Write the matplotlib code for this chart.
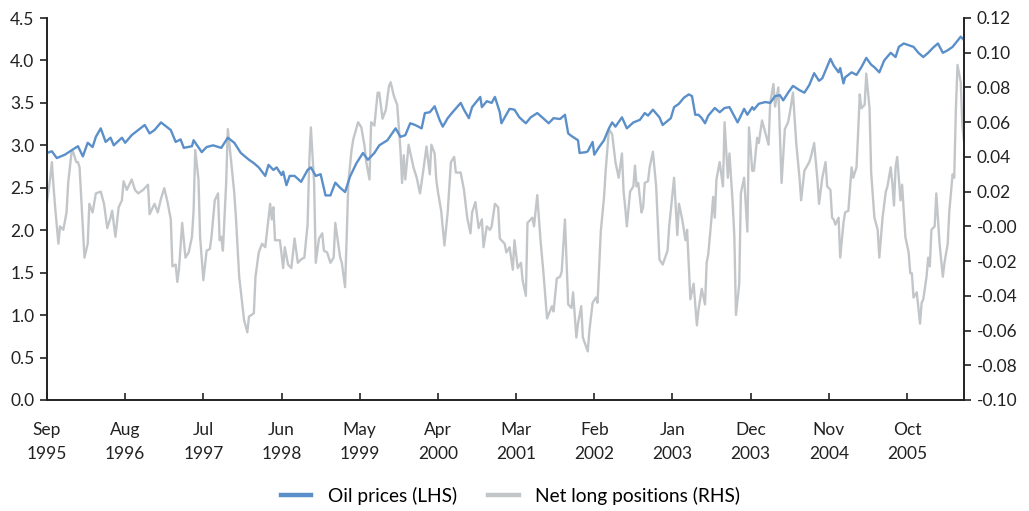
import matplotlib
matplotlib.use("Agg")
import matplotlib.pyplot as plt

# Weekly observations since Sep 1995 (week index) and values
oil_weeks = [0, 3, 6, 11, 15, 19, 22, 25, 28, 30, 33, 36, 39, 41, 46, 48, 52, 56, 60, 63, 66, 70, 72, 76,
             79, 82, 84, 89, 90, 95, 98, 102, 107, 111, 115, 119, 124, 127, 130, 134, 136, 139, 141, 144,
             145, 147, 149, 152, 156, 160, 162, 165, 168, 171, 174, 177, 180, 183, 186, 190, 194, 197, 201,
             204, 209, 214, 217, 220, 223, 226, 230, 232, 235, 238, 241, 243, 246, 249, 254, 256, 259, 261,
             266, 267, 270, 273, 275, 278, 279, 284, 287, 290, 294, 297, 301, 304, 308, 311, 315, 318, 320,
             322, 326, 327, 331, 332, 335, 336, 339, 342, 345, 347, 349, 353, 356, 360, 364, 367, 369, 372,
             376, 378, 383, 385, 388, 391, 394, 396, 398, 400, 402, 404, 406, 410, 413, 416, 419, 424, 428,
             430, 433, 434, 437, 441, 444, 447, 450, 452, 455, 458, 462, 465, 468, 471, 474, 476, 479, 481,
             483, 486, 487, 489, 490, 494, 497, 500, 503, 506, 508, 511, 514, 518, 521, 523, 526, 529, 532,
             535, 538, 541, 544, 547, 550, 553, 556, 561, 563]
oil_prices = [2.91, 2.93, 2.85, 2.89, 2.94, 2.99, 2.87, 3.03, 2.98, 3.10, 3.20, 3.04, 3.09, 3.00, 3.09, 3.03,
              3.12, 3.18, 3.24, 3.14, 3.18, 3.27, 3.24, 3.18, 3.04, 3.07, 2.97, 2.99, 3.06, 2.92, 2.98, 3.00,
              2.97, 3.09, 3.03, 2.91, 2.83, 2.79, 2.74, 2.64, 2.77, 2.71, 2.74, 2.65, 2.69, 2.53, 2.64, 2.64,
              2.57, 2.71, 2.74, 2.64, 2.66, 2.41, 2.41, 2.56, 2.50, 2.45, 2.63, 2.79, 2.91, 2.83, 2.91, 3.00,
              3.06, 3.20, 3.10, 3.12, 3.26, 3.24, 3.20, 3.38, 3.39, 3.46, 3.30, 3.22, 3.32, 3.39, 3.50, 3.42,
              3.32, 3.45, 3.57, 3.45, 3.52, 3.50, 3.57, 3.39, 3.26, 3.43, 3.42, 3.33, 3.26, 3.33, 3.38, 3.33,
              3.26, 3.32, 3.31, 3.36, 3.14, 3.11, 3.06, 2.91, 2.92, 2.93, 3.04, 2.89, 2.98, 3.06, 3.20, 3.27,
              3.22, 3.33, 3.20, 3.27, 3.30, 3.38, 3.35, 3.42, 3.33, 3.24, 3.32, 3.45, 3.49, 3.56, 3.60, 3.58,
              3.36, 3.36, 3.32, 3.26, 3.35, 3.44, 3.39, 3.44, 3.45, 3.27, 3.43, 3.36, 3.45, 3.42, 3.49, 3.51,
              3.50, 3.58, 3.59, 3.53, 3.62, 3.70, 3.65, 3.62, 3.71, 3.85, 3.76, 3.79, 3.93, 4.02, 3.94, 3.86,
              3.91, 3.73, 3.80, 3.86, 3.83, 3.92, 4.03, 3.95, 3.92, 3.86, 4.00, 4.09, 4.04, 4.16, 4.20, 4.18,
              4.16, 4.09, 4.04, 4.09, 4.15, 4.20, 4.09, 4.12, 4.16, 4.28, 4.24]

pos_weeks = [0, 2, 3, 4, 5, 7, 8, 10, 12, 13, 15, 16, 18, 19, 20, 22, 23, 25, 26, 28, 30, 33, 35, 37, 39,
             40, 42, 44, 46, 47, 49, 52, 54, 56, 59, 62, 63, 66, 68, 70, 72, 74, 76, 77, 79, 80, 81, 83, 85,
             87, 89, 90, 91, 93, 94, 96, 98, 100, 101, 103, 105, 106, 107, 108, 110, 111, 113, 115, 116,
             118, 121, 123, 124, 127, 128, 130, 132, 134, 137, 138, 139, 140, 143, 145, 146, 148, 150, 152,
             154, 156, 158, 160, 161, 162, 164, 165, 167, 169, 170, 172, 174, 176, 177, 180, 181, 183, 184,
             185, 187, 188, 191, 193, 195, 196, 198, 199, 201, 203, 204, 206, 208, 210, 211, 213, 215, 217,
             218, 219, 220, 222, 225, 227, 229, 231, 233, 235, 236, 238, 239, 240, 242, 244, 246, 248, 250,
             251, 254, 256, 258, 260, 261, 263, 265, 267, 268, 270, 272, 273, 275, 277, 278, 281, 282, 284,
             286, 287, 289, 291, 292, 294, 295, 298, 299, 301, 303, 305, 307, 310, 311, 313, 315, 316, 318,
             320, 322, 323, 325, 326, 328, 329, 332, 333, 335, 337, 338, 340, 342, 343, 345, 347, 349, 351,
             353, 354, 355, 356, 358, 360, 361, 362, 363, 365, 366, 367, 369, 370, 372, 374, 376, 378, 381,
             382, 385, 387, 388, 390, 392, 393, 395, 397, 399, 400, 402, 404, 405, 406, 408, 409, 410, 411,
             413, 415, 416, 418, 419, 421, 422, 423, 425, 426, 428, 430, 431, 433, 434, 436, 437, 439, 441,
             443, 444, 446, 447, 449, 451, 453, 455, 456, 458, 460, 462, 463, 465, 468, 469, 471, 473, 474,
             476, 478, 479, 481, 482, 483, 484, 486, 487, 489, 490, 492, 494, 495, 497, 498, 499, 500, 502,
             503, 505, 506, 508, 510, 511, 513, 515, 516, 518, 519, 520, 521, 522, 524, 525, 527, 529, 530,
             531, 532, 534, 536, 537, 538, 540, 541, 542, 543, 545, 546, 548, 550, 551, 553, 554, 556, 557,
             558, 559, 561, 562, 563]
net_long = [0.014, 0.028, 0.037, 0.023, 0.011, -0.010, 0.000, -0.002, 0.008, 0.025, 0.042, 0.043, 0.037,
            0.037, 0.034, 0.000, -0.018, -0.010, 0.013, 0.008, 0.019, 0.020, 0.013, -0.001, 0.005, 0.009,
            -0.006, 0.011, 0.015, 0.026, 0.021, 0.027, 0.021, 0.019, 0.021, 0.024, 0.007, 0.013, 0.008,
            0.016, 0.022, 0.014, 0.004, -0.023, -0.022, -0.032, -0.025, 0.002, -0.018, -0.015, -0.006,
            0.009, 0.044, 0.027, -0.006, -0.031, -0.014, -0.013, -0.006, 0.015, 0.019, -0.008, -0.006,
            -0.014, 0.025, 0.056, 0.038, 0.019, 0.005, -0.029, -0.054, -0.061, -0.052, -0.050, -0.029,
            -0.015, -0.010, -0.012, 0.013, 0.004, 0.011, -0.008, -0.008, -0.024, -0.012, -0.022, -0.024,
            -0.007, -0.021, -0.019, -0.018, 0.001, 0.037, 0.057, 0.025, -0.021, -0.007, -0.004, -0.014,
            -0.015, -0.021, -0.018, 0.002, -0.018, -0.021, -0.035, -0.006, 0.025, 0.044, 0.050, 0.060,
            0.057, 0.046, 0.037, 0.027, 0.060, 0.058, 0.077, 0.077, 0.062, 0.067, 0.081, 0.083, 0.075,
            0.070, 0.044, 0.025, 0.041, 0.027, 0.047, 0.034, 0.028, 0.019, 0.032, 0.046, 0.030, 0.047,
            0.042, 0.027, 0.020, 0.009, -0.011, 0.008, 0.037, 0.040, 0.031, 0.031, 0.021, 0.005, -0.004,
            0.008, 0.014, -0.001, 0.004, -0.012, 0.000, -0.002, 0.000, 0.013, 0.011, -0.007, -0.010,
            -0.015, -0.012, -0.025, -0.008, -0.024, -0.021, -0.031, -0.040, 0.002, 0.005, 0.000, 0.018,
            -0.008, -0.029, -0.053, -0.046, -0.049, -0.030, -0.029, -0.026, 0.004, -0.045, -0.047, -0.038,
            -0.064, -0.056, -0.046, -0.064, -0.072, -0.060, -0.044, -0.041, -0.044, -0.003, 0.017, 0.032,
            0.056, 0.053, 0.037, 0.028, 0.042, 0.020, 0.011, 0.000, 0.020, 0.023, 0.035, 0.023, 0.025,
            0.008, 0.011, 0.025, 0.026, 0.034, 0.043, 0.023, -0.019, -0.022, -0.014, 0.000, 0.028, -0.005,
            0.013, 0.004, -0.008, -0.002, -0.042, -0.033, -0.057, -0.048, -0.036, -0.045, -0.021, -0.016,
            0.005, 0.017, 0.005, 0.027, 0.037, 0.023, 0.060, 0.028, 0.042, 0.013, -0.006, -0.051, -0.033,
            0.019, 0.028, -0.003, 0.057, 0.032, 0.032, 0.051, 0.048, 0.061, 0.054, 0.047, 0.071, 0.082,
            0.069, 0.080, 0.025, 0.056, 0.060, 0.065, 0.077, 0.048, 0.028, 0.015, 0.032, 0.037, 0.040,
            0.048, 0.027, 0.013, 0.028, 0.037, 0.023, 0.021, 0.005, 0.004, 0.001, 0.005, -0.018, 0.002,
            0.008, 0.009, 0.034, 0.028, 0.034, 0.054, 0.076, 0.068, 0.070, 0.088, 0.068, 0.031, 0.005,
            -0.002, -0.018, 0.005, 0.020, 0.023, 0.034, 0.025, 0.012, 0.034, 0.040, 0.015, 0.024, -0.006,
            -0.015, -0.027, -0.027, -0.041, -0.038, -0.056, -0.044, -0.042, -0.029, -0.018, -0.023, -0.002,
            0.000, 0.019, -0.010, -0.029, -0.021, -0.010, 0.009, 0.030, 0.028, 0.067, 0.093, 0.083, 0.058,
            0.049]

tick_weeks = [0, 48, 96, 144, 192, 240, 288, 336, 384, 432, 480, 528]
tick_labels = ["Sep\n1995", "Aug\n1996", "Jul\n1997", "Jun\n1998", "May\n1999", "Apr\n2000",
               "Mar\n2001", "Feb\n2002", "Jan\n2003", "Dec\n2003", "Nov\n2004", "Oct\n2005"]
left_ticks = [0.0, 0.5, 1.0, 1.5, 2.0, 2.5, 3.0, 3.5, 4.0, 4.5]
right_ticks = [-0.10, -0.08, -0.06, -0.04, -0.02, 0.0, 0.02, 0.04, 0.06, 0.08, 0.10, 0.12]
right_labels = ["-0.10", "-0.08", "-0.06", "-0.04", "-0.02", "-0.00", "0.02", "0.04", "0.06",
                "0.08", "0.10", "0.12"]

plt.rcParams['font.family'] = ['Lato', 'DejaVu Sans']

BLUE = "#5b8fc9"
GRAY = "#c3c6c9"

fig = plt.figure(figsize=(10.29, 5.11), dpi=100)
ax = fig.add_axes([47 / 1029, 1 - 400 / 511, (964 - 47) / 1029, (400 - 18) / 511])
ax2 = ax.twinx()

ax2.plot(pos_weeks, net_long, color=GRAY, lw=1.7, label="Net long positions (RHS)")
ax.plot(oil_weeks, oil_prices, color=BLUE, lw=1.7, label="Oil prices (LHS)")

ax.set_zorder(ax2.get_zorder() + 1)
ax.patch.set_visible(False)

ax.set_xlim(0, 563)
ax.set_ylim(0, 4.5)
ax2.set_ylim(-0.10, 0.12)
ax.set_yticks(left_ticks)
ax.set_yticklabels([f"{v:.1f}" for v in left_ticks])
ax2.set_yticks(right_ticks)
ax2.set_yticklabels(right_labels)
ax.set_xticks(tick_weeks)
ax.set_xticklabels(tick_labels, linespacing=1.6)

for a in (ax, ax2):
    a.spines['top'].set_visible(False)
    for s in ('left', 'right', 'bottom'):
        a.spines[s].set_linewidth(1.2)
        a.spines[s].set_color('#222222')

ax.tick_params(axis='x', direction='in', length=5, width=1.2, pad=16, labelsize=12.5, colors='#222222')
ax.tick_params(axis='y', direction='out', length=5, width=1.2, pad=4, labelsize=12.5, colors='#222222')
ax2.tick_params(axis='y', direction='out', length=5, width=1.2, pad=4, labelsize=12.5, colors='#222222')

h1, l1 = ax.get_legend_handles_labels()
h2, l2 = ax2.get_legend_handles_labels()
leg = fig.legend(h1 + h2, l1 + l2, loc='center', bbox_to_anchor=(0.496, 1 - 496 / 511), ncol=2,
                 frameon=False, fontsize=13.8, handlelength=1.6, columnspacing=1.65, handletextpad=0.85)
for line in leg.get_lines():
    line.set_linewidth(3.2)

fig.savefig("out.png", dpi=100)
